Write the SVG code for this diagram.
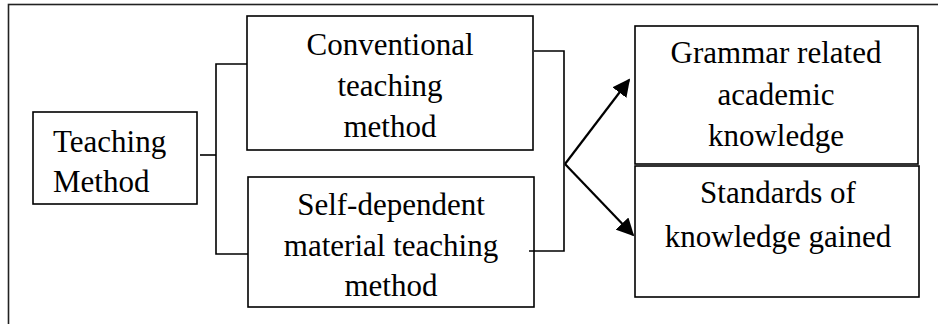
<svg xmlns="http://www.w3.org/2000/svg" width="938" height="324" viewBox="0 0 938 324">
<defs>
<style>
.box{fill:#fff;stroke:#000;stroke-width:1.6}
.t{font-family:"Liberation Serif","Times New Roman",serif;font-size:31px;fill:#000}
.c{text-anchor:middle}
.ln{fill:none;stroke:#000;stroke-width:1.6}
.ar{fill:none;stroke:#000;stroke-width:2.2}
</style>
<marker id="ah" viewBox="0 0 10 10" refX="9" refY="5" markerWidth="7" markerHeight="7" markerUnits="userSpaceOnUse" orient="auto">
<path d="M0,0 L10,5 L0,10 z" fill="#000"/>
</marker>
<marker id="ah2" viewBox="0 0 10 10" refX="9" refY="5" markerWidth="8" markerHeight="8" orient="auto">
<path d="M0,0 L10,5 L0,10 z" fill="#000"/>
</marker>
</defs>
<rect x="0" y="0" width="938" height="324" fill="#fff"/>
<rect x="8.5" y="4.5" width="960" height="340" fill="none" stroke="#222" stroke-width="1.6"/>
<g id="teaching-method">
<rect class="box" x="33" y="112" width="164" height="92"/>
<text class="t" x="53" y="152">Teaching</text>
<text class="t" x="53" y="192">Method</text>
</g>
<g id="conventional">
<rect class="box" x="247" y="16" width="286" height="134"/>
<text class="t c" x="390" y="55">Conventional</text>
<text class="t c" x="390" y="96">teaching</text>
<text class="t c" x="390" y="137">method</text>
</g>
<g id="self-dependent">
<rect class="box" x="248" y="177" width="286" height="130"/>
<text class="t c" x="391" y="215">Self-dependent</text>
<text class="t c" x="391" y="256">material teaching</text>
<text class="t c" x="391" y="296">method</text>
</g>
<g id="grammar">
<rect class="box" x="635" y="26" width="283" height="138"/>
<text class="t c" x="776" y="63">Grammar related</text>
<text class="t c" x="776" y="105">academic</text>
<text class="t c" x="776" y="146">knowledge</text>
</g>
<g id="standards">
<rect class="box" x="635" y="166" width="284" height="131"/>
<text class="t c" x="778" y="203">Standards of</text>
<text class="t c" x="778" y="247">knowledge gained</text>
</g>
<g id="connectors">
<polyline class="ln" points="200,155 216,155"/>
<polyline class="ln" points="247,64 216,64 216,254 248,254"/>
<polyline class="ln" points="534,51 564,51 564,251 529,251"/>
<line class="ar" x1="565" y1="164" x2="629" y2="80" marker-end="url(#ah2)"/>
<line class="ar" x1="565" y1="164" x2="633" y2="235" marker-end="url(#ah2)"/>
</g>
</svg>
